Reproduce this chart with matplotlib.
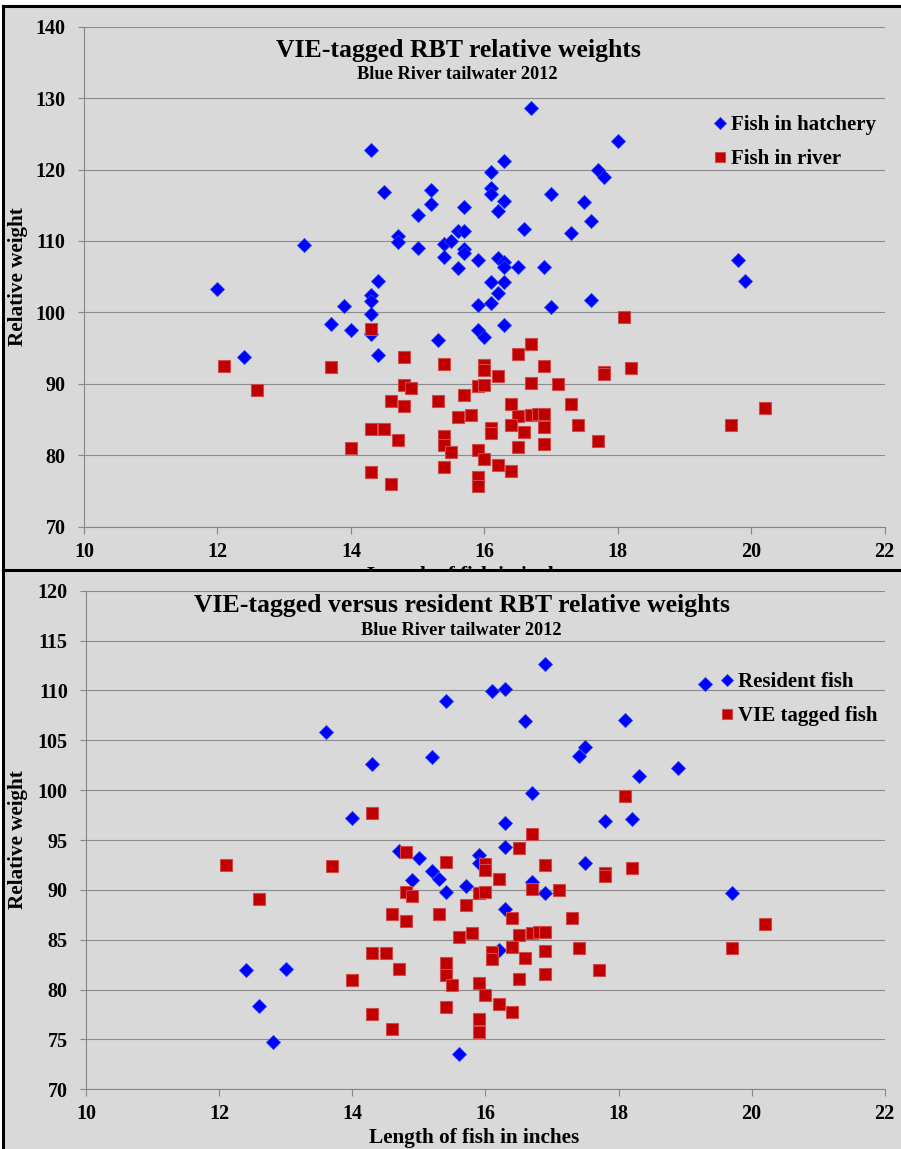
import matplotlib
matplotlib.use("Agg")
import matplotlib.pyplot as plt
from matplotlib.patches import Rectangle
from matplotlib.lines import Line2D

###########################
# Data
###########################

# hatchery-held VIE fish (top panel)
hatch_len = [16.7, 18.0, 14.3, 16.3, 16.1, 17.7, 17.8, 14.5, 15.2, 15.2,
             16.1, 16.1, 16.3, 16.2, 17.0, 17.5, 17.6, 17.3, 15.7, 15.0,
             16.6, 15.6, 15.7, 14.7, 14.7, 15.0, 15.4, 15.5, 15.7, 15.7,
             15.4, 15.9, 16.2, 16.3, 16.3, 16.5, 16.9, 15.6, 14.4, 16.1,
             16.3, 16.2, 14.3, 14.3, 13.9, 15.9, 16.1, 17.0, 17.6, 14.3,
             14.0, 14.3, 15.3, 15.9, 16.0, 16.3, 14.4, 12.0, 13.3, 12.4,
             13.7, 19.8, 19.9]
hatch_wr = [128.6, 124.0, 122.7, 121.2, 119.6, 119.9, 119.0, 116.9, 117.2, 115.2,
            117.4, 116.6, 115.6, 114.2, 116.6, 115.4, 112.8, 111.1, 114.7, 113.7,
            111.7, 111.4, 111.4, 110.7, 109.9, 109.0, 109.6, 110.0, 108.9, 108.3,
            107.8, 107.4, 107.6, 107.1, 106.3, 106.4, 106.4, 106.2, 104.4, 104.3,
            104.3, 102.7, 102.4, 101.6, 100.9, 101.1, 101.3, 100.7, 101.7, 99.8,
            97.6, 97.0, 96.2, 97.5, 96.5, 98.3, 94.0, 103.3, 109.4, 93.7,
            98.4, 107.4, 104.4]

# VIE fish released to the river (both panels)
river_len = [18.1, 14.3, 16.7, 16.5, 14.8, 15.4, 16.0, 16.0, 16.9, 16.2,
             17.8, 17.8, 18.2, 16.7, 17.1, 15.9, 16.0, 14.8, 14.9, 15.7,
             14.6, 15.3, 14.8, 16.4, 17.3, 15.6, 15.8, 16.5, 16.7, 16.8,
             16.9, 16.4, 16.6, 16.9, 17.4, 14.3, 14.5, 16.1, 16.1, 15.4,
             15.4, 15.5, 14.7, 17.7, 14.0, 15.9, 16.5, 16.9, 16.0, 16.2,
             16.4, 14.3, 15.4, 15.9, 15.9, 14.6, 12.1, 12.6, 13.7, 19.7,
             20.2]
river_wr = [99.4, 97.7, 95.6, 94.2, 93.8, 92.8, 92.6, 92.0, 92.5, 91.1,
            91.7, 91.4, 92.2, 90.1, 90.0, 89.7, 89.8, 89.8, 89.4, 88.5,
            87.6, 87.6, 86.9, 87.2, 87.2, 85.3, 85.7, 85.5, 85.7, 85.8,
            85.8, 84.3, 83.2, 83.9, 84.2, 83.7, 83.7, 83.8, 83.1, 82.7,
            81.5, 80.5, 82.1, 82.0, 81.0, 80.7, 81.1, 81.6, 79.5, 78.6,
            77.8, 77.6, 78.3, 77.0, 75.7, 76.0, 92.5, 89.1, 92.4, 84.2,
            86.6]

# resident (untagged) fish (bottom panel)
res_len = [16.9, 16.1, 16.3, 15.4, 16.6, 18.1, 14.3, 15.2, 17.5, 17.4,
           18.3, 16.7, 14.0, 16.3, 17.8, 18.2, 16.3, 14.7, 15.0, 15.9,
           15.9, 17.5, 15.2, 14.9, 15.3, 15.4, 15.7, 16.7, 16.9, 16.3,
           16.2, 15.6, 19.7, 19.3, 18.9, 13.6, 12.4, 13.0, 12.6, 12.8]
res_wr = [112.6, 109.9, 110.1, 108.9, 106.9, 107.0, 102.6, 103.3, 104.3, 103.4,
          101.4, 99.7, 97.2, 96.7, 96.9, 97.1, 94.3, 93.9, 93.2, 93.5,
          92.7, 92.7, 91.9, 91.0, 91.1, 89.8, 90.4, 90.8, 89.7, 88.1,
          84.0, 73.5, 89.7, 110.6, 102.2, 105.8, 82.0, 82.1, 78.4, 74.7]

x_ticks = [10, 12, 14, 16, 18, 20, 22]
top_yticks = [70, 80, 90, 100, 110, 120, 130, 140]
bot_yticks = [70, 75, 80, 85, 90, 95, 100, 105, 110, 115, 120]

###########################
# Style
###########################

W, H = 901, 1149
BG = '#D9D9D9'
AXIS_GRAY = '#868686'
FONT = 'Liberation Serif'
plt.rcParams.update({'font.family': FONT, 'font.weight': 'bold'})

diamond = dict(marker='D', ms=6.9, color='#0000FF', mec='#1F3FF0', mew=0.6, ls='none')
square = dict(marker='s', ms=9.2, color='#C00000', mec='#D04848', mew=0.8, ls='none')
legend_opts = dict(frameon=False, numpoints=1, markerscale=0.86,
                   handlelength=0.8, handletextpad=0.13, borderpad=0,
                   borderaxespad=0, labelspacing=0.68,
                   prop={'family': FONT, 'weight': 'bold', 'size': 15})


def fx(px):
    return px / W


def fy(py):
    return 1 - py / H


def style_axes(ax, yticks):
    ax.set_facecolor('none')
    ax.set_xlim(10, 22)
    ax.set_xticks(x_ticks)
    ax.set_ylim(yticks[0], yticks[-1])
    ax.set_yticks(yticks)
    for s in ['top', 'right']:
        ax.spines[s].set_visible(False)
    for s in ['left', 'bottom']:
        ax.spines[s].set_color(AXIS_GRAY)
        ax.spines[s].set_linewidth(0.8)
    ax.yaxis.grid(True, color='#8C8C8C', lw=0.8)
    ax.set_axisbelow(True)
    ax.tick_params(axis='both', direction='out', color=AXIS_GRAY, width=0.8,
                   labelsize=14.5)
    ax.tick_params(axis='y', length=4.3, pad=9)
    ax.tick_params(axis='x', length=4.8, pad=6)
    for lab in ax.get_xticklabels() + ax.get_yticklabels():
        lab.set_fontweight('bold')


fig = plt.figure(figsize=(W / 100, H / 100), dpi=100)
fig.patch.set_facecolor('white')

# panel backgrounds and black frame
fig.add_artist(Rectangle((fx(3), 0), 1 - fx(3), fy(6), transform=fig.transFigure,
                         facecolor=BG, edgecolor='none', zorder=0))
fig.add_artist(Rectangle((fx(3), 0), 1 - fx(3), fy(570), transform=fig.transFigure,
                         facecolor=BG, edgecolor='none', zorder=2))
for xs, ys in [([fx(3), 1], [fy(6), fy(6)]),
               ([fx(3), fx(3)], [fy(6), 0]),
               ([fx(3), 1], [fy(570), fy(570)])]:
    fig.add_artist(Line2D(xs, ys, transform=fig.transFigure, color='black',
                          lw=2.2, zorder=6))

###########################
# Top panel
###########################

ax1 = fig.add_axes([fx(84), fy(526.7), fx(884.7) - fx(84), fy(26.7) - fy(526.7)],
                   zorder=1)
style_axes(ax1, top_yticks)
ax1.plot(hatch_len, hatch_wr, label='Fish in hatchery', **diamond)
ax1.plot(river_len, river_wr, label='Fish in river', **square)
ax1.legend(loc='upper left', bbox_to_anchor=(fx(711.5), fy(115)),
           bbox_transform=fig.transFigure, **legend_opts)

fig.text(fx(458), fy(56.7), 'VIE-tagged RBT relative weights', ha='center',
         va='baseline', size=18.5, weight='bold', zorder=5)
fig.text(fx(457), fy(79.3), 'Blue River tailwater 2012', ha='center',
         va='baseline', size=13.2, weight='bold', zorder=5)
fig.text(fx(18), fy(276.7), 'Relative weight', rotation=90, ha='center',
         va='center', size=15.2, weight='bold', zorder=5)
# x label of the top chart sits mostly underneath the lower panel
fig.text(fx(472), fy(580.7), 'Length of fish in inches', ha='center',
         va='baseline', size=15.3, weight='bold', zorder=1.5)

###########################
# Bottom panel
###########################

ax2 = fig.add_axes([fx(86.3), fy(1089.3), fx(884.7) - fx(86.3), fy(590.7) - fy(1089.3)],
                   zorder=3)
style_axes(ax2, bot_yticks)
ax2.plot(res_len, res_wr, label='Resident fish', **diamond)
ax2.plot(river_len, river_wr, label='VIE tagged fish', **square)
ax2.legend(loc='upper left', bbox_to_anchor=(fx(718.5), fy(672)),
           bbox_transform=fig.transFigure, **legend_opts)

fig.text(fx(462), fy(612.3), 'VIE-tagged versus resident RBT relative weights',
         ha='center', va='baseline', size=18.5, weight='bold', zorder=5)
fig.text(fx(461.7), fy(635), 'Blue River tailwater 2012', ha='center',
         va='baseline', size=13.2, weight='bold', zorder=5)
fig.text(fx(18), fy(840), 'Relative weight', rotation=90, ha='center',
         va='center', size=15.2, weight='bold', zorder=5)
fig.text(fx(474), fy(1143.3), 'Length of fish in inches', ha='center',
         va='baseline', size=15.3, weight='bold', zorder=5)

plt.savefig('out.png', dpi=100)
